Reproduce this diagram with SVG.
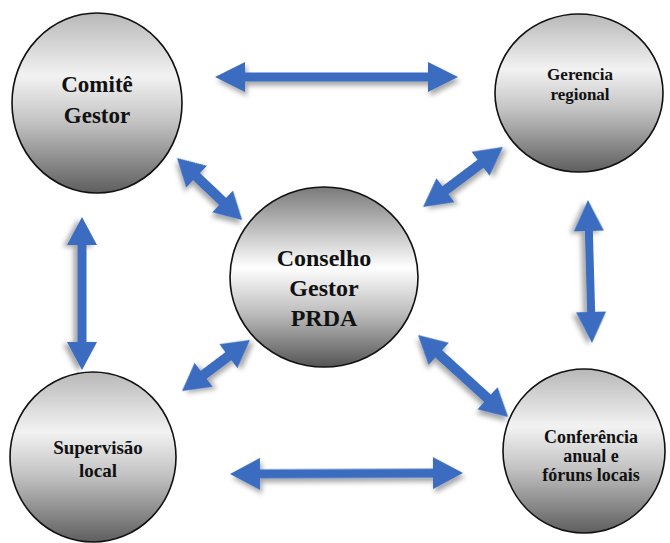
<svg xmlns="http://www.w3.org/2000/svg" width="670" height="543" viewBox="0 0 670 543">
<defs>
<linearGradient id="gOuter" x1="0" y1="0" x2="0" y2="1">
<stop offset="0" stop-color="#b8b8b8"/>
<stop offset="0.35" stop-color="#f2f2f2"/>
<stop offset="0.6" stop-color="#c4c4c4"/>
<stop offset="1" stop-color="#5e5e5e"/>
</linearGradient>
<linearGradient id="gCenter" x1="0" y1="0" x2="0" y2="1">
<stop offset="0" stop-color="#7a7a7a"/>
<stop offset="0.45" stop-color="#ffffff"/>
<stop offset="0.7" stop-color="#bdbdbd"/>
<stop offset="1" stop-color="#555555"/>
</linearGradient>
<filter id="sh" x="-20%" y="-20%" width="150%" height="160%">
<feDropShadow dx="2" dy="4" stdDeviation="2.5" flood-color="#000" flood-opacity="0.35"/>
</filter>
</defs>
<style>
.node ellipse{stroke:#111;stroke-width:1.6}
.outer{fill:url(#gOuter)}
.center{fill:url(#gCenter)}
.arr polygon{fill:#3a6cbf;filter:url(#sh)}
</style>
<rect width="670" height="543" fill="#ffffff"/>
<g id="connectors" class="arr">
<polygon transform="translate(215,77)" points="0,0 30,-15 30,-4.5 213,-4.5 213,-15 243,0 213,15 213,4.5 30,4.5 30,15"/>
<polygon transform="translate(230,474) rotate(-0.25)" points="0,0 30,-16 30,-4.5 203,-4.5 203,-16 233,0 203,16 203,4.5 30,4.5 30,16"/>
<polygon transform="translate(82,217) rotate(90)" points="0,0 28,-15 28,-4.5 125,-4.5 125,-15 153,0 125,15 125,4.5 28,4.5 28,15"/>
<polygon transform="translate(588,200) rotate(88.4)" points="0,0 31,-15 31,-4 112,-4 112,-15 143,0 112,15 112,4 31,4 31,15"/>
<polygon transform="translate(177,158) rotate(43.6)" points="0,0 27,-15 27,-5 63,-5 63,-15 90,0 63,15 63,5 27,5 27,15"/>
<polygon transform="translate(423,207) rotate(-36.9)" points="0,0 28,-15 28,-5 72,-5 72,-15 100,0 72,15 72,5 28,5 28,15"/>
<polygon transform="translate(182,391) rotate(-36.9)" points="0,0 27,-15 27,-5 58,-5 58,-15 85,0 58,15 58,5 27,5 27,15"/>
<polygon transform="translate(418,335) rotate(42.3)" points="0,0 28,-15 28,-5 94,-5 94,-15 122,0 94,15 94,5 28,5 28,15"/>
</g>
<g font-family="'Liberation Serif', 'Times New Roman', 'DejaVu Serif', serif" font-weight="bold" fill="#111" text-anchor="middle">
<g id="comite" class="node">
<ellipse class="outer" cx="97" cy="103" rx="85" ry="90"/>
<text x="97" y="92" font-size="23">Comitê</text>
<text x="97" y="123" font-size="23">Gestor</text>
</g>
<g id="gerencia" class="node">
<ellipse class="outer" cx="579" cy="93" rx="84" ry="79"/>
<text x="580" y="80" font-size="17">Gerencia</text>
<text x="580" y="100" font-size="17">regional</text>
</g>
<g id="conselho" class="node">
<ellipse class="center" cx="324" cy="277" rx="94" ry="90"/>
<text x="324" y="266" font-size="24">Conselho</text>
<text x="324" y="296" font-size="24">Gestor</text>
<text x="324" y="326" font-size="24">PRDA</text>
</g>
<g id="supervisao" class="node">
<ellipse class="outer" cx="93" cy="457" rx="83" ry="85"/>
<text x="98" y="454" font-size="19">Supervisão</text>
<text x="98" y="477" font-size="19">local</text>
</g>
<g id="conferencia" class="node">
<ellipse class="outer" cx="584" cy="451" rx="81" ry="82"/>
<text x="591" y="443" font-size="18">Conferência</text>
<text x="591" y="462" font-size="18">anual e</text>
<text x="591" y="481" font-size="18">fóruns locais</text>
</g>
</g>
</svg>
